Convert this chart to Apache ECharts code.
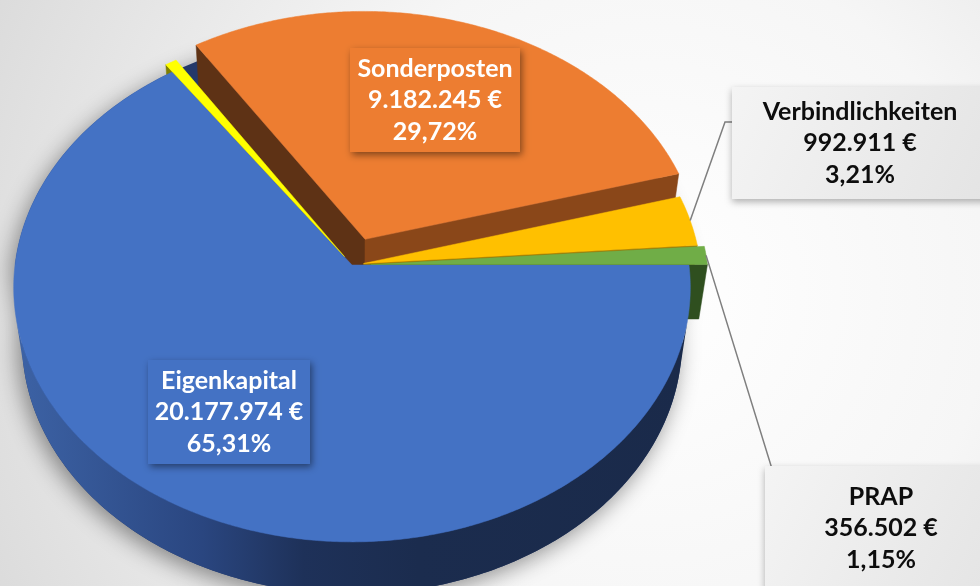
<!DOCTYPE html>
<html>
<head>
<meta charset="utf-8">
<script src="https://cdn.jsdelivr.net/npm/echarts@6/dist/echarts.min.js"></script>
<style>
  html, body { margin: 0; padding: 0; }
  #chart { width: 980px; height: 586px; }
</style>
</head>
<body>
<div id="chart"></div>
<script>
// data (clockwise from 3 o'clock)
const categories = ['Eigenkapital', 'Rückstellungen', 'Sonderposten', 'Verbindlichkeiten', 'PRAP'];
const values = [20177974, 186300, 9182245, 992911, 356502];
const showLabel = [true, false, true, true, true];
const explode = [0, 0.04, 0.11, 0.035, 0.055];

// colours
const topColors = ['#4472C4', '#FFFF00', '#ED7D31', '#FFC000', '#70AD47'];
const sideColors = ['#2a4478', '#7f7f00', '#5e3215', '#9a7300', '#2f4f1f'];
const sideColors2 = ['#2a4478', '#7f7f00', '#8a4719', '#9a7300', '#2f4f1f'];

// labels: centre of box, box size, text colour, leader line (elbow, end)
const labelLayout = [
  { x: 229, y: 412, w: 162, h: 104, inside: true },
  null,
  { x: 435, y: 100, w: 170, h: 104, inside: true },
  { x: 860, y: 143, w: 256, h: 112, inside: false, elbow: [725, 122], end: [737, 122] },
  { x: 881, y: 528, w: 232, h: 124, inside: false, elbow: [785, 511], end: [797, 511] }
];

// 3d view
const view = { cx: 352, cy: 265, F: 2524, D: 7.49, alpha: 48.5 * Math.PI / 180, H: 0.25 };
const ca = Math.cos(view.alpha), sa = Math.sin(view.alpha);

function project(X, Z, Y) {
  const yc = Y * ca - Z * sa;
  const zc = view.D - (Y * sa + Z * ca);
  return [view.cx + view.F * X / zc, view.cy - view.F * yc / zc];
}

const total = values.reduce((a, b) => a + b, 0);

function fmtEuro(v) {
  return String(v).replace(/\B(?=(\d{3})+(?!\d))/g, '.') + ' €';
}
function fmtPct(v) {
  return (v / total * 100).toFixed(2).replace('.', ',') + '%';
}

// slice angles
let cum = 0;
const slices = values.map((v, i) => {
  const hi = -2 * Math.PI * cum / total;
  cum += v;
  const lo = -2 * Math.PI * cum / total;
  const mid = (hi + lo) / 2;
  return {
    hi, lo, mid,
    ex: explode[i] * Math.cos(mid),
    ez: -explode[i] * Math.sin(mid)
  };
});

function facing(nx, nz, px, pz) {
  return nx * (0 - px) + nz * (view.D * ca - pz);
}

function radialFace(s, phi, psi, color) {
  const nx = Math.cos(psi), nz = -Math.sin(psi);
  const px = s.ex + 0.5 * Math.cos(phi), pz = s.ez - 0.5 * Math.sin(phi);
  if (facing(nx, nz, px, pz) <= 0) return null;
  const rx = s.ex + Math.cos(phi), rz = s.ez - Math.sin(phi);
  return {
    type: 'polygon', z2: 1, silent: true,
    shape: { points: [project(s.ex, s.ez, 0), project(rx, rz, 0), project(rx, rz, -view.H), project(s.ex, s.ez, -view.H)] },
    style: { fill: color, stroke: color, lineWidth: 0.5 }
  };
}

const wallGradient = new echarts.graphic.LinearGradient(12, 0, 690, 0, [
  { offset: 0, color: '#3d63a6' },
  { offset: 0.28, color: '#2a4680' },
  { offset: 0.43, color: '#1e3159' },
  { offset: 0.6, color: '#1b2c4e' },
  { offset: 1, color: '#1a2a4a' }
], true);

function outerWall(s, i) {
  const n = Math.max(2, Math.ceil((s.hi - s.lo) / (Math.PI / 360)));
  const topPts = [], botPts = [];
  for (let k = 0; k <= n; k++) {
    const t = s.hi - (s.hi - s.lo) * k / n;
    const c = Math.cos(t), sn = Math.sin(t);
    const px = s.ex + c, pz = s.ez - sn;
    if (facing(c, -sn, px, pz) > 0) {
      topPts.push(project(px, pz, 0));
      botPts.push(project(px, pz, -view.H));
    }
  }
  if (topPts.length < 2) return null;
  return {
    type: 'polygon', z2: 2, silent: true,
    shape: { points: topPts.concat(botPts.reverse()) },
    style: { fill: i === 0 ? wallGradient : sideColors[i] }
  };
}

function topFace(s, i) {
  const n = Math.max(2, Math.ceil((s.hi - s.lo) / (Math.PI / 360)));
  const pts = [project(s.ex, s.ez, 0)];
  for (let k = 0; k <= n; k++) {
    const t = s.hi - (s.hi - s.lo) * k / n;
    pts.push(project(s.ex + Math.cos(t), s.ez - Math.sin(t), 0));
  }
  return {
    type: 'polygon', z2: 3, silent: true,
    shape: { points: pts },
    style: { fill: topColors[i], stroke: topColors[i], lineWidth: 0.5 }
  };
}

function footprint() {
  const pts = [];
  for (let k = 0; k <= 180; k++) {
    const t = Math.PI * k / 180;
    pts.push(project(Math.cos(t), -Math.sin(t), 0));
  }
  for (let k = 0; k <= 180; k++) {
    const t = Math.PI + Math.PI * k / 180;
    pts.push(project(Math.cos(t), -Math.sin(t), -view.H));
  }
  return {
    type: 'polygon', z2: 0, silent: true,
    shape: { points: pts },
    style: { fill: '#24396a', shadowBlur: 22, shadowColor: 'rgba(0,0,0,0.42)', shadowOffsetX: -4, shadowOffsetY: 6 }
  };
}

function label(s, i) {
  const L = labelLayout[i];
  if (!showLabel[i] || !L) return [];
  const els = [];
  const boxFill = L.inside ? topColors[i] : new echarts.graphic.LinearGradient(0, 0, 1, 1, [
    { offset: 0, color: '#f4f4f4' }, { offset: 1, color: '#e4e4e4' }
  ]);
  els.push({
    type: 'rect', z2: 5, silent: true,
    shape: { x: L.x - L.w / 2, y: L.y - L.h / 2, width: L.w, height: L.h },
    style: {
      fill: boxFill,
      shadowBlur: 7, shadowColor: L.inside ? 'rgba(0,0,0,0.45)' : 'rgba(0,0,0,0.3)',
      shadowOffsetX: L.inside ? 2 : 0, shadowOffsetY: 3
    }
  });
  els.push({
    type: 'text', z2: 6, silent: true,
    style: {
      text: categories[i] + '\n' + fmtEuro(values[i]) + '\n' + fmtPct(values[i]),
      x: L.x, y: L.y,
      align: 'center', verticalAlign: 'middle',
      textAlign: 'center', textVerticalAlign: 'middle',
      font: 'bold 25px Lato',
      lineHeight: 31.5,
      fill: L.inside ? '#ffffff' : '#0d0d0d'
    }
  });
  if (L.elbow) {
    const start = project(s.ex + Math.cos(s.mid), s.ez - Math.sin(s.mid), 0);
    els.push({
      type: 'polyline', z2: 4, silent: true,
      shape: { points: [start, L.elbow, L.end] },
      style: { stroke: '#7f7f7f', lineWidth: 1.5, fill: null }
    });
  }
  return els;
}

function renderItem(params, api) {
  const i = params.dataIndex;
  const s = slices[i];
  const children = [];
  if (i === 0) children.push(footprint());
  [radialFace(s, s.hi, s.hi + Math.PI / 2, sideColors[i]),
   radialFace(s, s.lo, s.lo - Math.PI / 2, sideColors2[i]),
   outerWall(s, i),
   topFace(s, i)].forEach(e => { if (e) children.push(e); });
  label(s, i).forEach(e => children.push(e));
  return { type: 'group', children };
}

const chart = echarts.init(document.getElementById('chart'));
chart.setOption({
  backgroundColor: new echarts.graphic.RadialGradient(0.66, 0.5, 1.3, [
    { offset: 0, color: '#ffffff' },
    { offset: 0.45, color: '#f6f6f6' },
    { offset: 1, color: '#d8d8d8' }
  ]),
  animation: false,
  series: [{
    type: 'custom',
    coordinateSystem: 'none',
    renderItem: renderItem,
    data: values.map((v, i) => ({ name: categories[i], value: v }))
  }]
});
</script>
</body>
</html>
